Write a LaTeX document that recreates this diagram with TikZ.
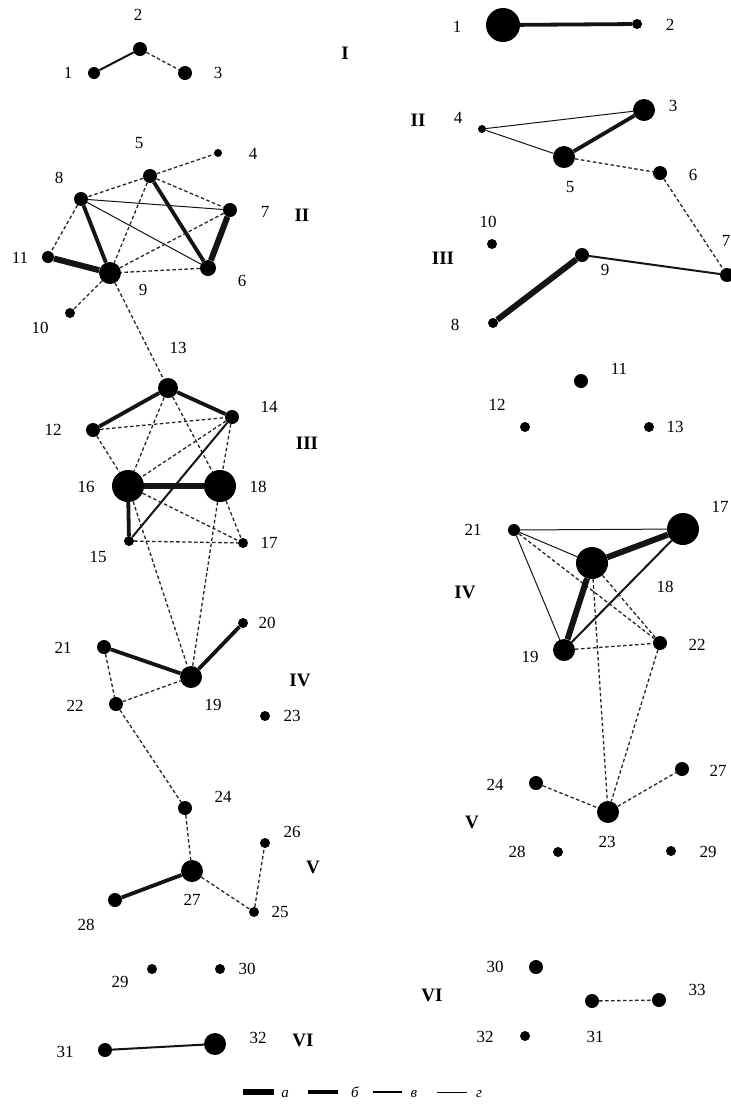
\documentclass[tikz,border=0pt]{standalone}
\usepackage{fontspec}
\setmainfont{Liberation Serif}
\begin{document}
\begin{tikzpicture}[x=1pt,y=-1pt,
  v/.style={circle,fill=black,inner sep=0pt,minimum size=#1},
  v/.default=10pt,
  lab/.style={inner sep=0pt,font=\fontsize{17}{17}\selectfont},
  grp/.style={inner sep=0pt,font=\fontsize{19}{19}\selectfont\bfseries},
  wa/.style={line width=6pt,black!92},
  wb/.style={line width=3.8pt,black!92},
  wv/.style={line width=2pt,black!92},
  wg/.style={line width=1pt,black!92},
  dsh/.style={line width=1.3pt,black!85,dash pattern=on 3.5pt off 2.5pt},
  leg/.style={inner sep=0pt,font=\fontsize{15}{15}\selectfont\itshape}]
\useasboundingbox (0,0) rectangle (731,1104);
\fill[white] (0,0) rectangle (731,1104);

% ---------------- left panel nodes
\node[v=12pt] (L1) at (94,73) {};
\node[v=14pt] (L2) at (140,49) {};
\node[v=14pt] (L3) at (185,73) {};
\node[v=8pt] (L4) at (218,153) {};
\node[v=14pt] (L5) at (150,176) {};
\node[v=16pt] (L6) at (208,268) {};
\node[v=14pt] (L7) at (230,210) {};
\node[v=14pt] (L8) at (81,199) {};
\node[v=22pt] (L9) at (110,273) {};
\node[v=10pt] (L10) at (70,313) {};
\node[v=12pt] (L11) at (48,257) {};
\node[v=14pt] (L12) at (93,430) {};
\node[v=20pt] (L13) at (168,388) {};
\node[v=14pt] (L14) at (232,417) {};
\node[v=10pt] (L15) at (129,541) {};
\node[v=32pt] (L16) at (128,486) {};
\node[v=10pt] (L17) at (243,543) {};
\node[v=32pt] (L18) at (220,486) {};
\node[v=22pt] (L19) at (191,677) {};
\node[v=10pt] (L20) at (243,623) {};
\node[v=14pt] (L21) at (104,647) {};
\node[v=14pt] (L22) at (116,704) {};
\node[v=10pt] (L23) at (265,716) {};
\node[v=14pt] (L24) at (185,808) {};
\node[v=10pt] (L25) at (254,912) {};
\node[v=10pt] (L26) at (265,843) {};
\node[v=22pt] (L27) at (192,871) {};
\node[v=14pt] (L28) at (115,900) {};
\node[v=10pt] (L29) at (152,969) {};
\node[v=10pt] (L30) at (220,969) {};
\node[v=14pt] (L31) at (105,1050) {};
\node[v=22pt] (L32) at (215,1044) {};

% left edges
\draw[wv] (L1) -- (L2);
\draw[dsh] (L2) -- (L3);
\draw[dsh] (L5) -- (L4);
\draw[dsh] (L5) -- (L8);
\draw[dsh] (L5) -- (L7);
\draw[wb] (L5) -- (L6);
\draw[dsh] (L5) -- (L9);
\draw[wg] (L8) -- (L7);
\draw[wg] (L8) -- (L6);
\draw[dsh] (L8) -- (L11);
\draw[wb] (L8) -- (L9);
\draw[wa] (L11) -- (L9);
\draw[wa] (L7) -- (L6);
\draw[dsh] (L7) -- (L9);
\draw[dsh] (L6) -- (L9);
\draw[dsh] (L9) -- (L10);
\draw[dsh] (L9) -- (L13);
\draw[wb] (L12) -- (L13);
\draw[wb] (L13) -- (L14);
\draw[dsh] (L12) -- (L14);
\draw[dsh] (L12) -- (L16);
\draw[dsh] (L13) -- (L16);
\draw[dsh] (L13) -- (L18);
\draw[dsh] (L14) -- (L16);
\draw[dsh] (L14) -- (L18);
\draw[wv] (L14) -- (L15);
\draw[wa] (L16) -- (L18);
\draw[wb] (L16) -- (L15);
\draw[dsh] (L16) -- (L17);
\draw[dsh] (L18) -- (L17);
\draw[dsh] (L15) -- (L17);
\draw[dsh] (L16) -- (L19);
\draw[dsh] (L18) -- (L19);
\draw[wb] (L21) -- (L19);
\draw[wb] (L19) -- (L20);
\draw[dsh] (L21) -- (L22);
\draw[dsh] (L22) -- (L19);
\draw[dsh] (L22) -- (L24);
\draw[dsh] (L24) -- (L27);
\draw[wb] (L27) -- (L28);
\draw[dsh] (L27) -- (L25);
\draw[dsh] (L25) -- (L26);
\draw[wv] (L31) -- (L32);

% left labels
\node[lab] (tL1) at (68,73) {1};
\node[lab] (tL2) at (138,15) {2};
\node[lab] (tL3) at (218,73) {3};
\node[lab] (tL4) at (253,154) {4};
\node[lab] (tL5) at (139,143) {5};
\node[lab] (tL6) at (242,281) {6};
\node[lab] (tL7) at (265,212) {7};
\node[lab] (tL8) at (59,178) {8};
\node[lab] (tL9) at (143,290) {9};
\node[lab] (tL10) at (40,328) {10};
\node[lab] (tL11) at (20,258) {11};
\node[lab] (tL12) at (53,430) {12};
\node[lab] (tL13) at (178,348) {13};
\node[lab] (tL14) at (269,407) {14};
\node[lab] (tL15) at (98,557) {15};
\node[lab] (tL16) at (86,487) {16};
\node[lab] (tL17) at (269,543) {17};
\node[lab] (tL18) at (258,487) {18};
\node[lab] (tL19) at (213,705) {19};
\node[lab] (tL20) at (267,623) {20};
\node[lab] (tL21) at (63,648) {21};
\node[lab] (tL22) at (75,706) {22};
\node[lab] (tL23) at (292,716) {23};
\node[lab] (tL24) at (223,797) {24};
\node[lab] (tL25) at (280,912) {25};
\node[lab] (tL26) at (292,832) {26};
\node[lab] (tL27) at (192,900) {27};
\node[lab] (tL28) at (86,925) {28};
\node[lab] (tL29) at (120,982) {29};
\node[lab] (tL30) at (247,969) {30};
\node[lab] (tL31) at (65,1052) {31};
\node[lab] (tL32) at (258,1038) {32};
\node[grp] (gL1) at (345,53) {I};
\node[grp] (gL2) at (302,215) {II};
\node[grp] (gL3) at (307,443) {III};
\node[grp] (gL4) at (300,680) {IV};
\node[grp] (gL5) at (313,867) {V};
\node[grp] (gL6) at (303,1040) {VI};

% ---------------- right panel nodes
\node[v=34pt] (R1) at (503,25) {};
\node[v=10pt] (R2) at (637,24) {};
\node[v=22pt] (R3) at (644,110) {};
\node[v=8pt] (R4) at (482,129) {};
\node[v=22pt] (R5) at (564,157) {};
\node[v=14pt] (R6) at (660,173) {};
\node[v=14pt] (R7) at (727,275) {};
\node[v=10pt] (R8) at (493,323) {};
\node[v=14pt] (R9) at (582,255) {};
\node[v=10pt] (R10) at (492,244) {};
\node[v=14pt] (R11) at (581,381) {};
\node[v=10pt] (R12) at (525,427) {};
\node[v=10pt] (R13) at (649,427) {};
\node[v=32pt] (R17) at (683,529) {};
\node[v=32pt] (R18) at (592,563) {};
\node[v=22pt] (R19) at (564,650) {};
\node[v=12pt] (R21) at (514,530) {};
\node[v=14pt] (R22) at (660,643) {};
\node[v=22pt] (R23) at (608,812) {};
\node[v=14pt] (R24) at (536,783) {};
\node[v=14pt] (R27) at (682,769) {};
\node[v=10pt] (R28) at (558,852) {};
\node[v=10pt] (R29) at (671,851) {};
\node[v=14pt] (R30) at (536,967) {};
\node[v=14pt] (R31) at (592,1001) {};
\node[v=10pt] (R32) at (525,1036) {};
\node[v=14pt] (R33) at (659,1000) {};

% right edges
\draw[wb] (R1) -- (R2);
\draw[wg] (R4) -- (R3);
\draw[wg] (R4) -- (R5);
\draw[wb] (R5) -- (R3);
\draw[dsh] (R5) -- (R6);
\draw[dsh] (R6) -- (R7);
\draw[wa] (R8) -- (R9);
\draw[wv] (R9) -- (R7);
\draw[wg] (R21) -- (R17);
\draw[wg] (R21) -- (R18);
\draw[wg] (R21) -- (R19);
\draw[dsh] (R21) -- (R22);
\draw[wa] (R17) -- (R18);
\draw[wv] (R17) -- (R19);
\draw[wa] (R18) -- (R19);
\draw[dsh] (R18) -- (R22);
\draw[dsh] (R19) -- (R22);
\draw[dsh] (R18) -- (R23);
\draw[dsh] (R22) -- (R23);
\draw[dsh] (R24) -- (R23);
\draw[dsh] (R23) -- (R27);
\draw[dsh] (R31) -- (R33);

% right labels
\node[lab] (tR1) at (457,27) {1};
\node[lab] (tR2) at (670,25) {2};
\node[lab] (tR3) at (673,106) {3};
\node[lab] (tR4) at (458,118) {4};
\node[lab] (tR5) at (570,187) {5};
\node[lab] (tR6) at (693,175) {6};
\node[lab] (tR7) at (726,241) {7};
\node[lab] (tR8) at (455,325) {8};
\node[lab] (tR9) at (605,270) {9};
\node[lab] (tR10) at (488,222) {10};
\node[lab] (tR11) at (619,369) {11};
\node[lab] (tR12) at (497,405) {12};
\node[lab] (tR13) at (675,427) {13};
\node[lab] (tR17) at (720,507) {17};
\node[lab] (tR18) at (665,587) {18};
\node[lab] (tR19) at (530,657) {19};
\node[lab] (tR21) at (473,530) {21};
\node[lab] (tR22) at (697,645) {22};
\node[lab] (tR23) at (607,842) {23};
\node[lab] (tR24) at (495,785) {24};
\node[lab] (tR27) at (718,771) {27};
\node[lab] (tR28) at (517,852) {28};
\node[lab] (tR29) at (708,852) {29};
\node[lab] (tR30) at (495,967) {30};
\node[lab] (tR31) at (595,1037) {31};
\node[lab] (tR32) at (485,1037) {32};
\node[lab] (tR33) at (697,990) {33};
\node[grp] (gR2) at (418,120) {II};
\node[grp] (gR3) at (443,258) {III};
\node[grp] (gR4) at (465,592) {IV};
\node[grp] (gR5) at (472,822) {V};
\node[grp] (gR6) at (432,995) {VI};

% ---------------- legend
\coordinate (la1) at (243,1092); \coordinate (la2) at (274,1092);
\coordinate (lb1) at (308,1092); \coordinate (lb2) at (338,1092);
\coordinate (lc1) at (373,1092); \coordinate (lc2) at (402,1092);
\coordinate (ld1) at (437,1092); \coordinate (ld2) at (467,1092);
\draw[line width=6pt,black] (la1) -- (la2);
\draw[line width=3.8pt,black] (lb1) -- (lb2);
\draw[line width=2pt,black] (lc1) -- (lc2);
\draw[line width=1pt,black] (ld1) -- (ld2);
\node[leg] (ta) at (285,1094) {а};
\node[leg] (tb) at (355,1092) {б};
\node[leg] (tc) at (414,1094) {в};
\node[leg] (td) at (479,1094) {г};
\end{tikzpicture}
\end{document}
